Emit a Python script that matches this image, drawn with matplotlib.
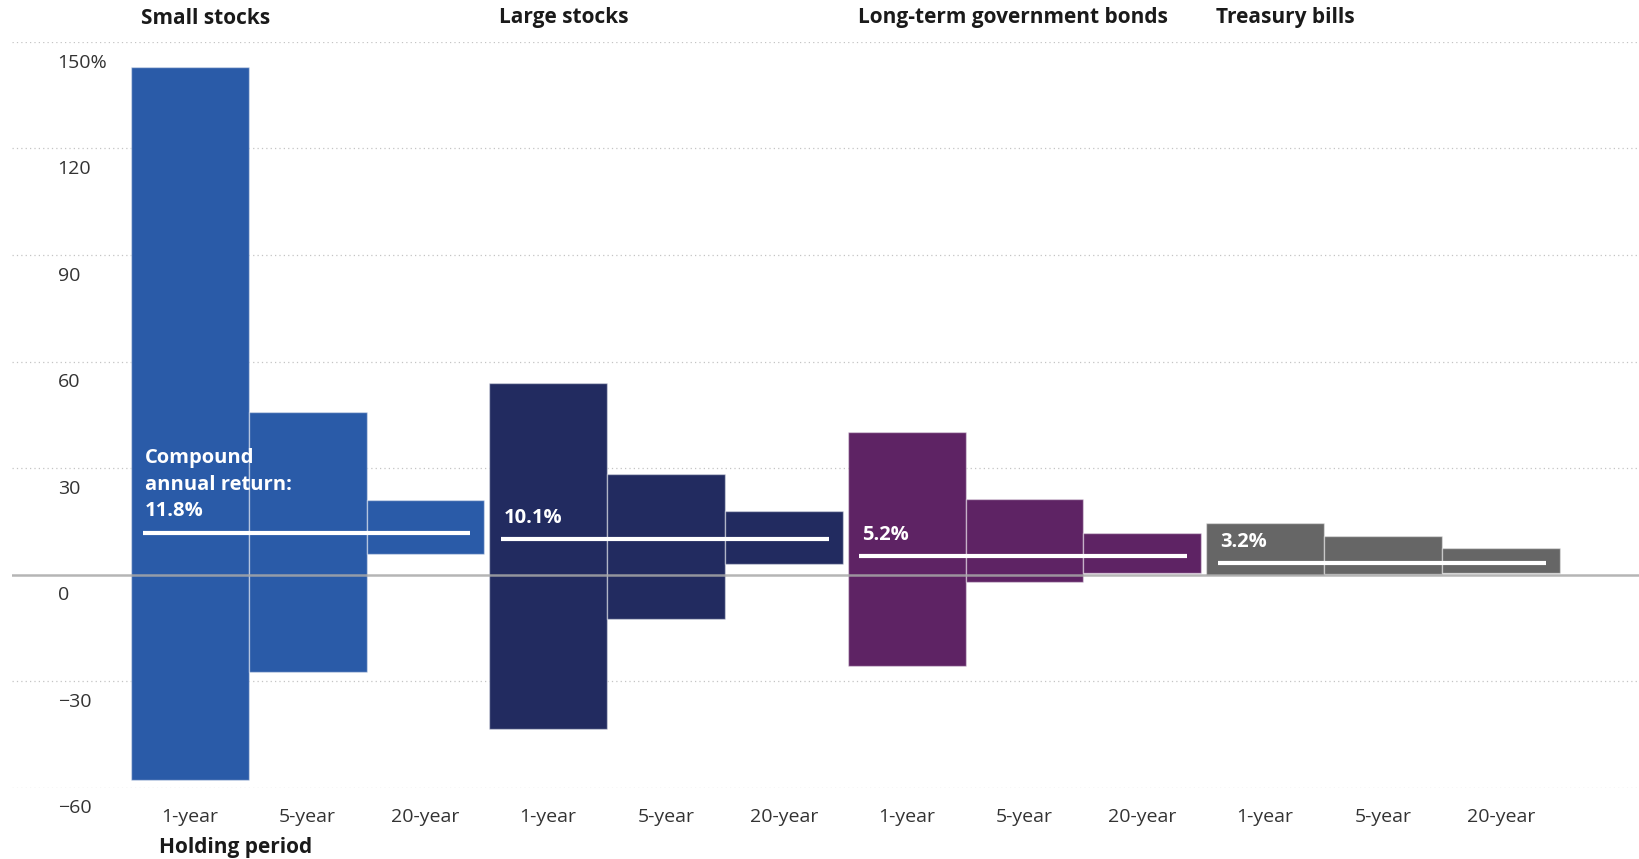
import matplotlib
matplotlib.use("Agg")
import matplotlib.pyplot as plt
import matplotlib.transforms as mtransforms
import numpy as np

# ---- data ----
categories = ["Small stocks", "Large stocks", "Long-term government bonds", "Treasury bills"]
periods = ["1-year", "5-year", "20-year"]
highs = {
    "Small stocks": [142.9, 45.9, 21.0],
    "Large stocks": [54.0, 28.4, 17.8],
    "Long-term government bonds": [40.2, 21.4, 11.8],
    "Treasury bills": [14.5, 10.9, 7.6],
}
lows = {
    "Small stocks": [-58.0, -27.4, 5.8],
    "Large stocks": [-43.4, -12.4, 3.0],
    "Long-term government bonds": [-25.9, -2.0, 0.5],
    "Treasury bills": [0.0, 0.1, 0.4],
}
compound = [11.8, 10.1, 5.2, 3.2]
compound_labels = ["Compound\nannual return:\n11.8%", "10.1%", "5.2%", "3.2%"]
colors = ["#2a5ba8", "#222b60", "#5e2364", "#666666"]
yticks = [150, 120, 90, 60, 30, 0, -30, -60]
ytick_labels = ["150%", "120", "90", "60", "30", "0", "\u221230", "\u221260"]

plt.rcParams["font.family"] = ["Open Sans", "DejaVu Sans"]

W, H = 1640, 859
fig = plt.figure(figsize=(W / 100, H / 100), dpi=100)
ax = fig.add_axes([12.5 / W, 1 - 787.5 / H, 1 - 12.5 / W, (787.5 - 42) / H])

gap = 0.04
width = 1.0
group_starts = [g * (3 * width + gap) for g in range(len(categories))]

# gridlines
for v in yticks:
    if v == 0:
        continue
    ax.axhline(v, color="#c4c4c4", lw=0.9, ls=(0, (1, 2.5)), zorder=0)

centers = []
for g, cat in enumerate(categories):
    x0 = group_starts[g]
    xs = [x0 + i * width for i in range(3)]
    hi = np.array(highs[cat])
    lo = np.array(lows[cat])
    ax.bar(xs, hi - lo, bottom=lo, width=width, align="edge",
           color=colors[g], edgecolor=(1, 1, 1, 0.45), linewidth=1.0, zorder=2)
    centers += [x + width / 2 for x in xs]
    # compound line
    ax.plot([x0 + 0.1, x0 + 3 * width - 0.12], [compound[g]] * 2,
            color="white", lw=3, solid_capstyle="butt", zorder=5)
    ax.annotate(compound_labels[g], xy=(x0 + 0.12, compound[g]), xytext=(0, 8),
                textcoords="offset points", ha="left", va="bottom",
                color="white", fontsize=14.5, fontweight="bold",
                linespacing=1.45, zorder=6)
    # header
    trans = mtransforms.blended_transform_factory(ax.transData, fig.transFigure)
    ax.text(x0 + 0.085, 1 - 18 / H, cat, transform=trans, ha="left", va="center",
            fontsize=15, fontweight="bold", color="#1a1a1a")

# zero line
ax.axhline(0, color="#a8a8a8", lw=1.8, alpha=0.85, zorder=4)

# y tick labels
ytrans = mtransforms.blended_transform_factory(ax.transAxes, ax.transData)
for v, lab in zip(yticks, ytick_labels):
    ax.annotate(lab, xy=(0.0277, v), xycoords=ytrans, xytext=(0, -15),
                textcoords="offset points", ha="left", va="center",
                fontsize=14, color="#333333")

ax.set_xlim(-1.003, 12.80)
ax.set_ylim(-60, 150)
ax.set_xticks(centers)
ax.set_xticklabels(periods * len(categories), fontsize=14, color="#333333")
ax.tick_params(axis="x", length=0, pad=15)
ax.set_yticks([])
for s in ax.spines.values():
    s.set_visible(False)

fig.text(159 / W, 1 - 847 / H, "Holding period", ha="left", va="center",
         fontsize=15, fontweight="bold", color="#1a1a1a")

fig.savefig("out.png", dpi=100)
